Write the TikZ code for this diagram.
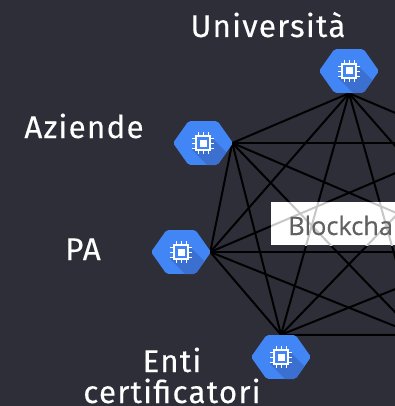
\documentclass[tikz,border=0pt]{standalone}
\usepackage{fontspec}
\setmainfont[LetterSpace=4,FakeBold=.25]{Fira Sans}
\newfontfamily\chainfont[FakeBold=.4]{Open Sans}
\definecolor{slide}{HTML}{2D2E38}
\definecolor{hexblue}{HTML}{4285F4}
\definecolor{hexshade}{HTML}{3B6FD0}
\newcommand{\drawlinks}[1]{
  \foreach \a/\b in {university.south/companies.east,university.south/pubadmin.east,
    university.south/certifiers.north,university.south/enr,university.south/par,university.south/azr,
    companies.east/pubadmin.east,companies.east/certifiers.north,companies.east/enr,companies.east/par,companies.east/azr,
    pubadmin.east/certifiers.north,pubadmin.east/enr,pubadmin.east/par,pubadmin.east/azr,
    certifiers.north/enr,certifiers.north/par,certifiers.north/azr} {
    \draw [#1] (\a) -- (\b);
  }
}
\begin{document}
\begin{tikzpicture}
    [
      x=.75pt,y=-.75pt,
      inner sep=0pt,
      hexnode/.style={minimum width=43.5pt,minimum height=33pt},
      textlabel/.style={text=white,font=\fontsize{23.5}{23.5}\selectfont,align=center},
      link/.style={draw=black,line width=1.5pt},
      hexchip/.pic={
        \begin{scope}
          \clip [rounded corners=1.5pt] (-30,0) -- (-14.5,-22) -- (14.5,-22) -- (30,0) -- (14.5,22) -- (-14.5,22) -- cycle;
          \fill [hexblue] (-30,-22) rectangle (30,22);
          \fill [hexshade] (7,-7) -- (40,26) -- (8,26) -- (-11,7) -- cycle;
        \end{scope}
        \fill [hexblue] (-7,-7) rectangle (7,7);
        \draw [white,line width=1pt] (-7,-7) rectangle (7,7);
        \fill [white] (-3.5,-3.5) rectangle (3.5,3.5);
        \foreach \p in {-5,0,5} {
          \draw [white,line width=.7pt] (\p,-7) -- (\p,-11) (\p,7) -- (\p,11)
            (-7,\p) -- (-11,\p) (7,\p) -- (11,\p);
        }
      }
    ]

    \useasboundingbox (0,0) rectangle (395,406);
    \clip (0,0) rectangle (395,406);
    \fill [slide] (0,0) rectangle (395,406);

    \node at (349,71) [hexnode] (university) {};
    \node at (203,143) [hexnode] (companies) {};
    \node at (181,252) [hexnode] (pubadmin) {};
    \node at (281,357) [hexnode] (certifiers) {};
    \coordinate (azr) at (466,143);
    \coordinate (par) at (488,252);
    \coordinate (enr) at (417,335);

    \drawlinks{link}

    \pic at (university) {hexchip};
    \pic at (companies) {hexchip};
    \pic at (pubadmin) {hexchip};
    \pic at (certifiers) {hexchip};

    \node at (268,37) [textlabel,anchor=base] (unilabel) {Università};
    \node at (84,138) [textlabel,anchor=base] (azlabel) {Aziende};
    \node at (83,260) [textlabel,anchor=base] (palabel) {PA};
    \node at (172,372) [textlabel,anchor=base] (enlabel) {Enti};
    \node at (172,403) [textlabel,anchor=base] (certlabel) {certificatori};

    \fill [white] (271,202) rectangle (395,245);
    \begin{scope}
      \clip (271,202) rectangle (395,245);
      \drawlinks{draw=black!22,line width=1.5pt}
    \end{scope}
    \node at (288,235) [anchor=base west,text=black!62,font=\chainfont\fontsize{19}{23}\selectfont] (chain) {Blockcha};
  \end{tikzpicture}
\end{document}
